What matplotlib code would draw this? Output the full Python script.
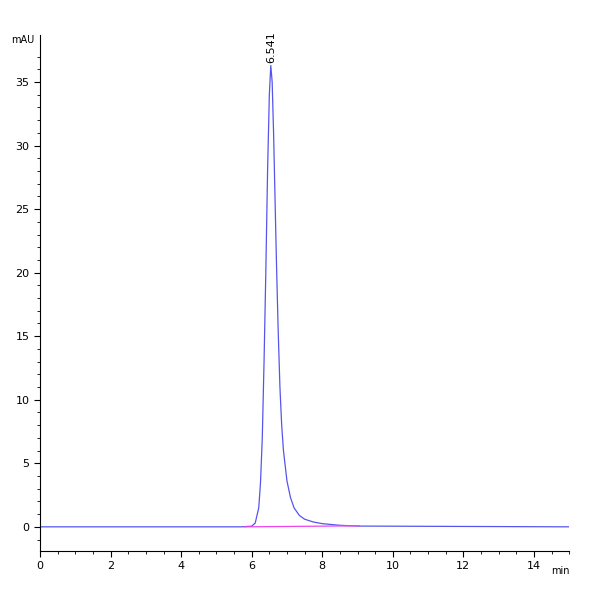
import numpy as np
import matplotlib.pyplot as plt

# Chromatogram points
tiempo = [0, 5.7, 6.0, 6.1, 6.2, 6.25, 6.3, 6.35, 6.4, 6.45, 6.5, 6.541, 6.58, 6.62, 6.66,
          6.7, 6.75, 6.8, 6.85, 6.9, 7.0, 7.1, 7.2, 7.35, 7.5, 7.75, 8.0, 8.5, 9.0, 12.0, 15.0]
senal = [0, 0, 0.05, 0.3, 1.5, 3.5, 7, 13, 20, 28, 34, 36.3, 35, 31, 26,
         21, 15.5, 11, 8, 6, 3.6, 2.3, 1.5, 0.9, 0.6, 0.38, 0.25, 0.12, 0.06, 0.03, 0.0]
base_x = [5.8, 9.05]
base_y = [0.0, 0.08]
pico_t = 6.541
pico_h = 36.3

fig = plt.figure(figsize=(6, 6), dpi=100)
ax = fig.add_axes([0.0667, 0.0817, 0.882, 0.860])
ax.plot(tiempo, senal, color='#5555ee', lw=0.9)
ax.plot(base_x, base_y, color='#ee44ee', lw=0.9)
ax.text(pico_t, pico_h + 0.2, '6.541', rotation=90, ha='center', va='bottom', fontsize=8)

ax.set_xlim(0, 15)
ax.set_ylim(-1.9, 38.7)
ax.set_xticks(range(0, 15, 2))
ax.set_xticks(np.arange(0, 15.01, 0.5), minor=True)
ax.set_yticks(range(0, 36, 5))
ax.set_yticks(range(-1, 38), minor=True)
ax.tick_params(labelsize=8, direction='out', length=4)
ax.tick_params(which='minor', length=2)
for s in ['top', 'right']:
    ax.spines[s].set_visible(False)
ax.text(-0.01, 1.0, 'mAU', transform=ax.transAxes, ha='right', va='top', fontsize=7)
ax.text(1.0, -0.03, 'min', transform=ax.transAxes, ha='right', va='top', fontsize=7)

plt.savefig('out.png', dpi=100)
